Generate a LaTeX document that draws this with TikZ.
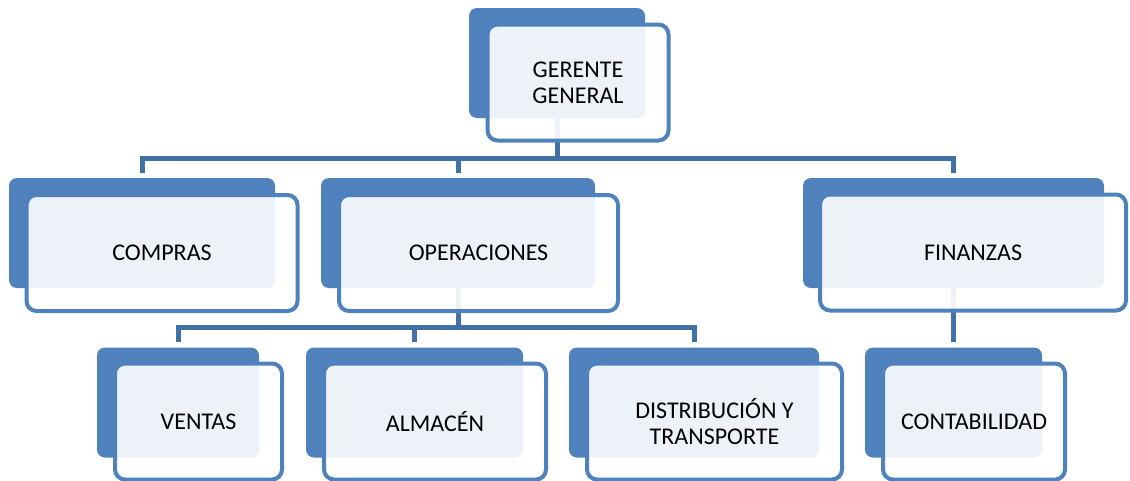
\documentclass[tikz,border=0pt]{standalone}
\usepackage{fontspec}
\setmainfont{Carlito}
\usetikzlibrary{calc}
\usetikzlibrary{backgrounds}

\definecolor{boxblue}{RGB}{79,129,189}
\definecolor{linkblue}{RGB}{65,113,166}

\tikzset{
  back/.style={shape=rectangle, fill=boxblue, rounded corners=8pt, minimum height=110pt, inner sep=0pt},
  front/.style={shape=rectangle, draw=boxblue, line width=4pt, fill=white, fill opacity=0.9, text opacity=1,
    rounded corners=10pt, minimum height=116pt, inner sep=0pt, align=center, font=\fontsize{24}{26}\selectfont},
  link/.style={draw=linkblue, line width=5pt}
}

\begin{document}
\begin{tikzpicture}[x=1pt, y=-1pt]
        \useasboundingbox (0,0) rectangle (1130,480);

        % top
        \node (gerB) at (557,63) [back, minimum width=176pt] {};
        \node (gerF) at (578,82.5) [front, minimum width=181pt] {GERENTE\\GENERAL};

        % departments
        \node (comB) at (142,233) [back, minimum width=266pt] {};
        \node (comF) at (162,253) [front, minimum width=271pt] {COMPRAS};
        \node (opeB) at (458,233) [back, minimum width=274pt] {};
        \node (opeF) at (478.5,253) [front, minimum width=279pt] {OPERACIONES};
        \node (finB) at (953.5,233) [back, minimum width=301pt] {};
        \node (finF) at (973,252.5) [front, minimum width=306pt] {FINANZAS};

        % sections
        \node (venB) at (178,402.5) [back, minimum width=162pt] {};
        \node (venF) at (198.5,421.5) [front, minimum width=167pt] {VENTAS};
        \node (almB) at (414.5,402.5) [back, minimum width=217pt] {};
        \node (almF) at (435,421.5) [front, minimum width=222pt] {ALMACÉN};
        \node (disB) at (694,402.5) [back, minimum width=250pt] {};
        \node (disF) at (714.5,421.5) [front, minimum width=255pt] {DISTRIBUCIÓN Y\\TRANSPORTE};
        \node (conB) at (953.5,402.5) [back, minimum width=177pt] {};
        \node (conF) at (974,421.5) [front, minimum width=182pt] {CONTABILIDAD};

        % connections
        \begin{pgfonlayer}{background}
        \coordinate (bus1) at (557,158);
        \coordinate (bus2) at (458,327);
        \draw[link] (gerB.center) -- (bus1);
        \draw[link, shorten <=5pt, shorten >=5pt] (comB.north) |- (bus1) -| (finB.north);
        \draw[link, shorten <=5pt] (opeB.north) -- (opeB.north |- bus1);
        \draw[link] (opeB.center) -- (bus2);
        \draw[link, shorten <=5pt, shorten >=5pt] (venB.north) |- (bus2) -| (disB.north);
        \draw[link, shorten <=5pt] (almB.north) -- (almB.north |- bus2);
        \draw[link, shorten >=5pt] (finB.center) -- (conB.north);
        \end{pgfonlayer}
\end{tikzpicture}
\end{document}
